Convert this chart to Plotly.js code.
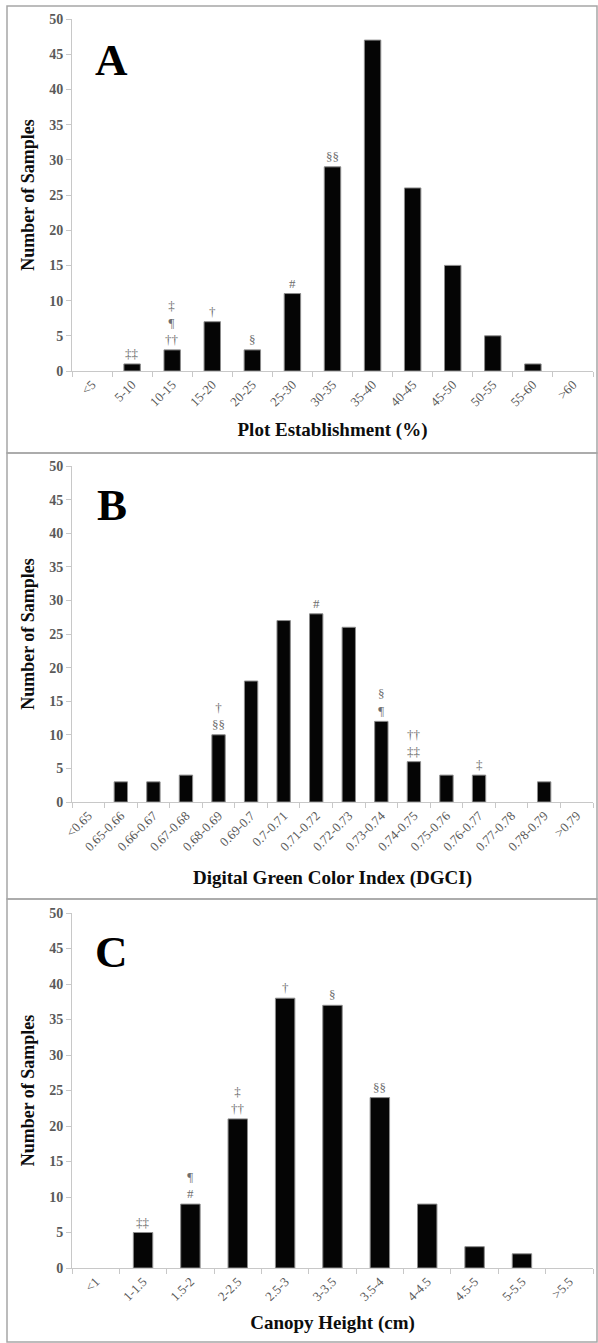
<!DOCTYPE html>
<html>
<head>
<meta charset="utf-8">
<script src="https://cdn.plot.ly/plotly-3.0.1.min.js"></script>
<style>
html,body{margin:0;padding:0;background:#fff;}
#chart{width:598px;height:1343px;}
</style>
</head>
<body>
<div id="chart"></div>
<script>
// Panel A: Plot Establishment (%)
const catsA = ["<5","5-10","10-15","15-20","20-25","25-30","30-35","35-40","40-45","45-50","50-55","55-60",">60"];
const valsA = [0,1,3,7,3,11,29,47,26,15,5,1,0];
const marksA = ["","‡‡","‡<br>¶<br>††","†","§","#","§§","","","","","",""];

// Panel B: Digital Green Color Index (DGCI)
const catsB = ["<0.65","0.65-0.66","0.66-0.67","0.67-0.68","0.68-0.69","0.69-0.7","0.7-0.71","0.71-0.72","0.72-0.73","0.73-0.74","0.74-0.75","0.75-0.76","0.76-0.77","0.77-0.78","0.78-0.79",">0.79"];
const valsB = [0,3,3,4,10,18,27,28,26,12,6,4,4,0,3,0];
const marksB = ["","","","","†<br>§§","","","#","","§<br>¶","††<br>‡‡","","‡","","",""];

// Panel C: Canopy Height (cm)
const catsC = ["<1","1-1.5","1.5-2","2-2.5","2.5-3","3-3.5","3.5-4","4-4.5","4.5-5","5-5.5",">5.5"];
const valsC = [0,5,9,21,38,37,24,9,3,2,0];
const marksC = ["","‡‡","¶<br>#","‡<br>††","†","§","§§","","","",""];

const panelLetters = ["A","B","C"];
const xTitles = ["Plot Establishment (%)","Digital Green Color Index (DGCI)","Canopy Height (cm)"];
const yTitle = "Number of Samples";

const W = 598, H = 1343;
const FONT = "Liberation Serif, Times New Roman, serif";
const xDom = [72/W, 593/W];
// pixel positions of y=0 and y=50 for each panel
const yPix = [[371,19],[802,466],[1268,913]];
const boxes = [[6,453],[453,899],[899,1342]];
const letterY = [60,505,952];
const standoffs = [14,17,12];

const panels = [[catsA,valsA,marksA],[catsB,valsB,marksB],[catsC,valsC,marksC]];
const data = [];
const annotations = [];
const shapes = [];
const layout = {
  width: W, height: H,
  margin: {l:0,r:0,t:0,b:0},
  paper_bgcolor: "#fff", plot_bgcolor: "#fff",
  showlegend: false,
  bargap: 0.59,
  font: {family: FONT, color: "#595959"}
};

panels.forEach((p, i) => {
  const [cats, vals, marks] = p;
  const xa = i === 0 ? "x" : "x" + (i+1);
  const ya = i === 0 ? "y" : "y" + (i+1);
  const xk = i === 0 ? "xaxis" : "xaxis" + (i+1);
  const yk = i === 0 ? "yaxis" : "yaxis" + (i+1);
  data.push({
    type: "bar", x: cats, y: vals, xaxis: xa, yaxis: ya,
    marker: {color: "#050505", line: {color: "#8c8c8c", width: vals.map(v => v > 0 ? 1 : 0)}},
    hoverinfo: "x+y"
  });
  const bot = 1 - yPix[i][0]/H, top = 1 - yPix[i][1]/H;
  layout[xk] = {
    domain: xDom, anchor: ya, type: "category",
    showline: true, linecolor: "#c8c8c8", linewidth: 1,
    ticks: "outside", tickson: "boundaries", ticklen: 5, tickcolor: "#c8c8c8",
    tickangle: -45, tickfont: {family: FONT, size: 13, color: "#595959"},
    showgrid: false, zeroline: false,
    title: {text: xTitles[i], font: {family: FONT, size: 19, color: "#0d0d0d", weight: "bold"}, standoff: standoffs[i]}
  };
  layout[yk] = {
    domain: [bot, top], anchor: xa, range: [0, 50], dtick: 5,
    showline: true, linecolor: "#c8c8c8", linewidth: 1,
    ticks: "outside", ticklen: 5, tickcolor: "#c8c8c8",
    tickfont: {family: FONT, size: 14, color: "#595959", weight: "bold"},
    showgrid: false, zeroline: false,
    title: {text: yTitle, font: {family: FONT, size: 18, color: "#0d0d0d", weight: "bold"}, standoff: 9}
  };
  cats.forEach((c, j) => {
    if (marks[j]) {
      annotations.push({
        xref: xa, yref: ya, x: c, y: vals[j], text: marks[j],
        showarrow: false, yanchor: "bottom", yshift: 1,
        font: {family: FONT, size: 13, color: "#6e6e6e"}
      });
    }
  });
  annotations.push({
    xref: "paper", yref: "paper", x: 112/W, y: 1 - letterY[i]/H,
    text: "<b>" + panelLetters[i] + "</b>", showarrow: false,
    xanchor: "center", yanchor: "middle",
    font: {family: FONT, size: 45, color: "#000"}
  });
  shapes.push({
    type: "rect", xref: "paper", yref: "paper",
    x0: 7/W, x1: 597/W, y0: 1 - boxes[i][1]/H, y1: 1 - boxes[i][0]/H,
    line: {color: "#a6a6a6", width: 1.5}, fillcolor: "rgba(0,0,0,0)", layer: "below"
  });
});
layout.annotations = annotations;
layout.shapes = shapes;

Plotly.newPlot("chart", data, layout, {displayModeBar: false, staticPlot: true});
</script>
</body>
</html>
